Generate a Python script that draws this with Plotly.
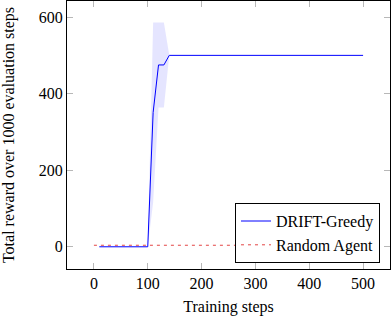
import plotly.graph_objects as go

steps = [10, 100, 110, 120, 130, 140, 500]
drift_mean = [0, 0, 351, 475, 475, 500, 500]
drift_upper = [0, 0, 586, 586, 586, 500, 500]
drift_lower = [0, 0, 116, 364, 364, 500, 500]
random_steps = [0, 500]
random_reward = [4, 4]

font = "Liberation Serif"
fig = go.Figure()
fig.add_trace(go.Scatter(x=steps, y=drift_upper, mode="lines", line=dict(width=0),
                         showlegend=False, hoverinfo="skip"))
fig.add_trace(go.Scatter(x=steps, y=drift_lower, mode="lines", line=dict(width=0),
                         fill="tonexty", fillcolor="rgba(0,0,255,0.1)",
                         showlegend=False, hoverinfo="skip"))
fig.add_trace(go.Scatter(x=steps, y=drift_mean, mode="lines", name="DRIFT-Greedy",
                         line=dict(color="#0000ff", width=1)))
fig.add_trace(go.Scatter(x=random_steps, y=random_reward, mode="lines", name="Random Agent",
                         line=dict(color="#e03030", width=0.9, dash="3px,4px")))

axis_common = dict(showgrid=False, zeroline=False, showline=True, linecolor="black",
                   linewidth=1, mirror="ticks", ticks="inside", tickcolor="#b8b8b8",
                   ticklen=6, automargin=False,
                   tickfont=dict(family=font, size=16, color="black"))
fig.update_xaxes(range=[-50, 550], tickvals=[0, 100, 200, 300, 400, 500],
                 title=dict(text="Training steps", font=dict(family=font, size=16, color="black"),
                            standoff=12), **axis_common)
fig.update_yaxes(range=[-58, 642], tickvals=[0, 200, 400, 600],
                 title=dict(text="Total reward over 1000 evaluation steps",
                            font=dict(family=font, size=16, color="black"), standoff=23),
                 **axis_common)
fig.update_layout(width=392, height=316, margin=dict(l=67, r=2, t=1, b=47),
                  plot_bgcolor="white", paper_bgcolor="white",
                  font=dict(family=font, size=16, color="black"),
                  legend=dict(x=0.969, y=0.022, xanchor="right", yanchor="bottom",
                              bgcolor="white", bordercolor="black", borderwidth=1,
                              font=dict(family=font, size=16), traceorder="normal",
                              tracegroupgap=0, itemwidth=30))
fig.write_html("out.html", config={"displayModeBar": False},
               post_script="document.body.style.margin='0';")
